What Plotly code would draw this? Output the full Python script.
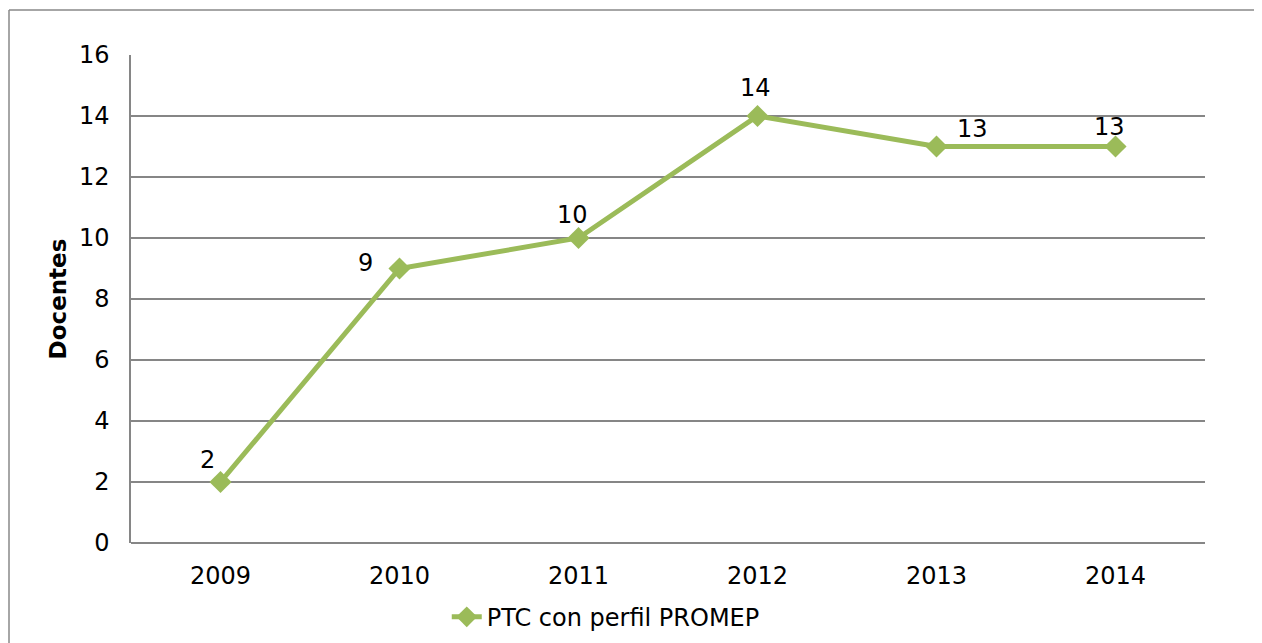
"""
PTC con perfil PROMEP, 2009-2014.
"""

import plotly.graph_objects as go

years = ["2009", "2010", "2011", "2012", "2013", "2014"]
docentes = [2, 9, 10, 14, 13, 13]
y_ticks = [0, 2, 4, 6, 8, 10, 12, 14, 16]

GREEN = "#9BBB59"
GRID = "#868686"
FRAME = "#898989"
FONT = "DejaVu Sans"

# the page body has an 8px margin, so the figure starts at (8, 8)
OFF = 8
W, H = 1262 - 2 * OFF, 643 - OFF
L, R, T, B = 131 - OFF, 1262 - OFF - 1205, 55 - OFF, 100
pw, ph = W - L - R, H - T - B

# where Excel put each data label, relative to its point (px)
label_shift = [(-13, 22), (-34, 6), (-6, 23), (-2, 28), (36, 18), (-6, 20)]

fig = go.Figure(
    go.Scatter(
        x=years,
        y=docentes,
        mode="lines+markers",
        name="PTC con perfil PROMEP",
        line={"color": GREEN, "width": 5},
        marker={"symbol": "diamond", "size": 17, "color": GREEN},
        cliponaxis=False,
    )
)

# data labels; on a category axis the index is the category position
for i, (value, (dx, dy)) in enumerate(zip(docentes, label_shift)):
    fig.add_annotation(
        x=i,
        y=value,
        xref="x",
        yref="y",
        text=str(value),
        showarrow=False,
        xshift=dx,
        yshift=dy,
        font={"family": FONT, "size": 24, "color": "#000000"},
    )

# outer chart frame: only its left and top edges fall inside the picture
fx0 = (9 - OFF - L) / pw
fy1 = 1 + (T - (10 - OFF)) / ph
fig.add_shape(type="line", xref="paper", yref="paper", x0=fx0, x1=fx0, y0=-1, y1=fy1,
              line={"color": FRAME, "width": 1.5})
fig.add_shape(type="line", xref="paper", yref="paper", x0=fx0, x1=2, y0=fy1, y1=fy1,
              line={"color": FRAME, "width": 1.5})

fig.update_layout(
    width=W,
    height=H,
    margin={"l": L, "r": R, "t": T, "b": B, "autoexpand": False},
    paper_bgcolor="white",
    plot_bgcolor="white",
    font={"family": FONT, "size": 24, "color": "#000000"},
    showlegend=True,
    legend={
        "orientation": "h",
        "x": 0.294,
        "xanchor": "left",
        "y": -0.152,
        "yanchor": "middle",
        "font": {"family": FONT, "size": 24},
    },
)

fig.update_xaxes(
    type="category",
    range=[-0.5, 5.5],
    showgrid=False,
    showline=False,
    ticks="",
    ticklabelstandoff=16,
)
fig.update_yaxes(
    range=[0, 16],
    tickvals=y_ticks,
    showgrid=True,
    gridcolor=GRID,
    gridwidth=1.5,
    zeroline=True,
    zerolinecolor=GRID,
    zerolinewidth=1.5,
    showline=True,
    linecolor=GRID,
    linewidth=1.5,
    ticks="",
    ticklabelstandoff=15,
    title={"text": "<b>Docentes</b>", "standoff": 6, "font": {"family": FONT, "size": 23}},
)

fig.write_html("out.html")
